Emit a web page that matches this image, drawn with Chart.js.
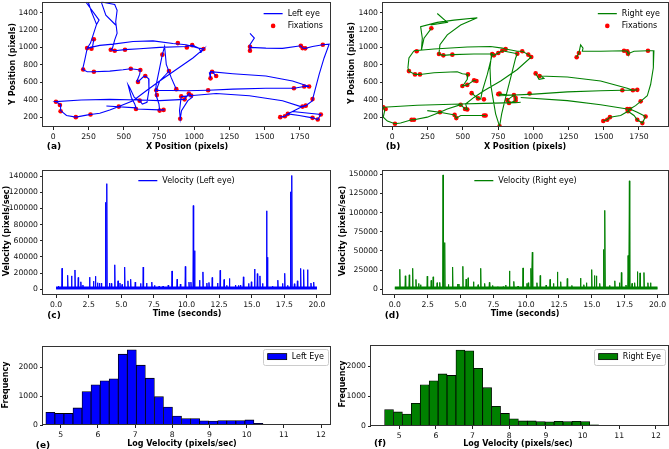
<!DOCTYPE html>
<html>
<head>
<meta charset="utf-8">
<script src="https://cdn.jsdelivr.net/npm/chart.js@4.4.1/dist/chart.umd.min.js"></script>
<style>
  body { margin: 0; width: 669px; height: 449px; background: #fff; position: relative; overflow: hidden; font-family: "DejaVu Sans", sans-serif; }
  canvas { position: absolute; }
  .lbl { position: absolute; transform: translate(-50%, -50%); white-space: nowrap; font-weight: bold; font-size: 8px; color: #000; }
  .rot { transform: translate(-50%, -50%) rotate(-90deg); }
  .tag { font-size: 9px; }
</style>
</head>
<body>
<canvas id="chartA"></canvas>
<canvas id="chartB"></canvas>
<canvas id="chartC"></canvas>
<canvas id="chartD"></canvas>
<canvas id="chartE"></canvas>
<canvas id="chartF"></canvas>

<div class="lbl rot" style="left:12px;top:64px">Y Position (pixels)</div>
<div class="lbl" style="left:187px;top:146px">X Position (pixels)</div>
<div class="lbl tag" style="left:54px;top:146px">(a)</div>
<div class="lbl rot" style="left:351px;top:63px">Y Position (pixels)</div>
<div class="lbl" style="left:525px;top:146px">X Position (pixels)</div>
<div class="lbl tag" style="left:393px;top:146px">(b)</div>

<div class="lbl rot" style="left:6px;top:231px">Velocity (pixels/sec)</div>
<div class="lbl" style="left:187px;top:313px">Time (seconds)</div>
<div class="lbl tag" style="left:54px;top:315px">(c)</div>
<div class="lbl rot" style="left:342px;top:231px">Velocity (pixels/sec)</div>
<div class="lbl" style="left:525px;top:313px">Time (seconds)</div>
<div class="lbl tag" style="left:392px;top:315px">(d)</div>

<div class="lbl rot" style="left:5px;top:385px">Frequency</div>
<div class="lbl" style="left:182px;top:443px">Log Velocity (pixels/sec)</div>
<div class="lbl tag" style="left:43px;top:445px">(e)</div>
<div class="lbl rot" style="left:342px;top:384px">Frequency</div>
<div class="lbl" style="left:518px;top:443px">Log Velocity (pixels/sec)</div>
<div class="lbl tag" style="left:380px;top:443px">(f)</div>

<script>
/**************************************
 *          TICKS DOS EIXOS
 **************************************/
const posXTicks = [0, 250, 500, 750, 1000, 1250, 1500, 1750];
const posYTicks = [200, 400, 600, 800, 1000, 1200, 1400];
const timeTicks = [0, 2.5, 5, 7.5, 10, 12.5, 15, 17.5, 20];
const velLeftTicks = [0, 20000, 40000, 60000, 80000, 100000, 120000, 140000];
const velRightTicks = [0, 25000, 50000, 75000, 100000, 125000, 150000];
const logVelTicks = [5, 6, 7, 8, 9, 10, 11, 12];
const freqTicks = [0, 1000, 2000];

/**************************************
 *     TRAJETORIAS (null = quebra)
 **************************************/
const leftEyePath = [
  [231,1521],[325,1313],[307,1264],[283,1143],[264,1049],[241,992],[224,860],[208,747],[241,721],[288,721],
  [401,728],[495,743],[550,755],[618,740],[613,690],[594,615],[601,604],[637,660],[653,672],[677,641],
  [679,509],[665,370],[632,351],[613,389],[575,426],[542,540],[531,570],[554,426],[578,351],[590,294],
  [755,283],[790,283], null,
  [248,1521],[271,1408],[295,1313],[307,1264], null,
  [342,1521],[436,1491],[453,1426],[443,1294],[453,1162],[436,1087],[420,992],[408,974],[436,962],[509,974],
  [613,985],[755,1000],[943,1011],[986,1026],[1033,992],[1050,947],[1066,981],[991,879],[873,747],[755,615],
  [660,502],[566,389],[465,321],[401,283],[330,245],[264,230],[236,223],[160,200],[94,219],[52,275],
  [52,343],[28,370],[14,377],[198,396],[401,404],[613,396],[755,389],[932,404],[962,472],[979,449],
  [986,426],[955,389],[910,275],[901,181],[896,275],[908,438],[1156,472],[1392,445],[1627,389],[1757,321],
  [1792,332],[1840,389],[1844,426],[1887,690],[1922,879],[1958,1038],[1913,1030],[1840,1011],[1788,989],[1769,992],
  [1757,1019],[1627,989],[1509,992],[1396,1000],[1396,962],[1396,1030],[1427,1106],[1396,1162], null,
  [342,1513],[373,1370],[443,1257], null,
  [288,1094],[278,1000],[241,992],[330,1023],[425,1038],[566,1068],[708,1075],[849,1045],[943,1030],[1033,992],
  [1066,981], null,
  [755,275],[750,351],[731,445],[726,509],[731,577],[755,766],[774,917],[790,1011],[802,804],[837,653],[873,521], null,
  [821,728],[790,672],[755,615],[731,509],[943,502],[1099,509],[1274,521],[1509,532],[1708,532],[1781,551],[1816,551], null,
  [1156,672],[1127,721],[1108,709],[1116,645],[1116,721],[1274,698],[1509,672],[1698,615],[1816,551], null,
  [1611,200],[1644,211],[1665,238],[1698,264],[1757,313],[1792,332], null,
  [1665,238],[1745,219],[1840,192],[1877,173],[1899,230],[1816,245],[1698,264], null,
  [377,328],[590,306]
];

const leftFixations = [
  [240,992],[271,985],[288,1094],[212,747],[288,721],[408,973],[436,962],[509,973],[550,755],[618,740],
  [601,604],[653,672],[613,389],[587,294],[465,321],[821,728],[774,917],[884,1049],[948,1000],[986,1026],
  [1066,981],[873,521],[731,509],[735,453],[755,275],[783,283],[901,181],[908,438],[932,404],[962,472],
  [979,449],[1099,509],[1116,645],[1127,721],[1156,672],[1396,962],[1396,1007],[1708,532],[1781,551],[1816,551],
  [1840,407],[1769,321],[1792,332],[1899,230],[1840,192],[1877,173],[1611,200],[1644,211],[1665,238],[1757,1019],
  [1769,992],[1788,989],[1913,1030],[19,377],[47,339],[52,268],[160,200],[264,230]
];

const rightEyePath = [
  [603,1340],[438,1313],[319,1287],[201,1238],[213,1106],[206,962], null,
  [319,1389],[390,1287],[272,1257], null,
  [603,1340],[485,1257],[390,1143],[338,1030],[331,924],[362,909],[426,917],[579,924],[709,924],[721,909],
  [752,936],[780,962],[887,928], null,
  [277,1219],[225,1106],[206,962], null,
  [154,962],[296,981],[532,1004],[698,1011],[780,992],[804,981],[887,955],[922,955],[965,917],[986,890],
  [887,747],[769,615],[650,502],[579,426],[520,351],[532,287],[516,294],[485,343],[390,294],[338,257],
  [248,200],[154,170],[137,170],[59,132],[19,124],[-35,155],[-64,200],[-54,275],[-64,313],[177,336],
  [485,351],[650,358],[875,366],[911,370], null,
  [154,962],[118,879],[111,766],[118,728],[161,690],[196,690],[296,709],[414,717],[461,721],[497,698],
  [537,690],[532,634],[508,577],[497,558],[532,570],[579,622],[596,615], null,
  [248,275],[338,257],[442,226],[454,189],[485,219],[650,219],[662,219], null,
  [705,936],[693,766],[698,577],[717,389],[733,238],[761,95],[776,238],[804,426],[840,653],[875,879],[887,928], null,
  [709,917],[674,690],[639,502],[627,407],[608,415],[563,475], null,
  [752,464],[863,453],[875,419],[875,389],[828,362],[816,396],[863,453], null,
  [757,445],[1005,464],[1242,490],[1478,502],[1632,509],[1707,509],[1738,513], null,
  [911,426],[1242,389],[1478,343],[1667,294],[1686,294], null,
  [1017,702],[1041,634],[1076,645],[1057,672],[1045,672],[1242,660],[1478,615],[1667,532],[1707,509], null,
  [1308,887],[1324,936],[1336,1030],[1353,992],[1348,955],[1478,955],[1644,962],[1667,955],[1672,928],[1715,955],
  [1814,962],[1856,962],[1852,766],[1833,577],[1809,445],[1762,381],[1726,332],[1686,294],[1672,268],[1620,219],
  [1544,200],[1525,170],[1497,155], null,
  [1686,294],[1738,257],[1797,208],[1774,132],[1738,170],[1715,219],[1672,268]
];

const rightFixations = [
  [277,1219],[173,955],[331,924],[362,909],[426,917],[709,924],[721,909],[752,936],[780,962],[804,981],
  [887,928],[922,955],[965,917],[986,890],[118,728],[161,690],[196,690],[537,690],[580,622],[597,615],
  [497,558],[532,570],[563,475],[608,415],[650,404],[752,464],[761,471],[863,453],[875,419],[875,389],
  [816,396],[828,362],[974,471],[1017,702],[1045,672],[485,343],[516,294],[532,287],[-64,313],[-47,294],
  [19,124],[137,170],[154,170],[338,256],[442,226],[454,189],[650,219],[662,219],[761,95],[1308,887],
  [1324,936],[1644,962],[1667,955],[1672,928],[1814,962],[1632,509],[1707,509],[1738,513],[1762,381],[1667,294],
  [1686,294],[1672,268],[1797,208],[1738,170],[1774,132],[1497,155],[1525,170],[1544,200]
];

/**************************************
 *        PICOS DE VELOCIDADE
 **************************************/
const velTimesLeft = [0.18,0.46,0.89,1.19,1.45,1.70,1.90,2.06,2.57,2.87,3.02,3.18,3.33,3.48,3.79,3.89,4.09,4.24,4.50,4.75,
  4.90,5.06,5.26,5.51,5.72,6.07,6.48,6.68,6.94,7.34,7.55,7.90,8.20,8.60,8.89,9.28,9.53,9.91,10.19,10.34,
  10.52,10.62,11.00,11.26,11.56,11.72,11.97,12.38,12.58,12.88,13.09,13.29,13.75,14.00,14.15,14.36,14.76,14.97,15.22,15.43,
  15.63,15.83,16.14,16.21,16.59,17.00,17.36,17.53,17.76,17.97,18.07,18.27,18.50,18.75,18.98,19.28,19.54,19.75];
const velLeft = [4000,26000,17400,16600,23900,14600,9300,5300,15000,10100,16200,8100,7700,7700,107600,130700,7700,7300,30300,10500,
  7700,6000,27500,10500,12500,8900,7300,27500,7700,8900,4900,4000,4000,5300,22700,12500,6500,28300,8900,8900,
  103600,47800,11300,21500,7700,8500,14600,7700,23500,12100,4900,13400,5300,4900,5300,15400,7300,9300,25100,19400,
  16600,7300,97100,39700,4000,11300,7300,19800,4900,120600,140800,6900,10500,25900,24300,24300,7700,8900];
const velBaseLeft = 1500;

const velTimesRight = [0.38,0.80,1.10,1.36,1.61,1.81,1.96,2.47,2.77,2.92,3.22,3.42,3.67,3.80,4.08,4.40,4.78,4.88,5.18,5.43,
  5.58,5.99,6.34,6.54,6.84,7.20,7.45,7.85,8.25,8.45,8.73,9.06,9.38,9.76,10.06,10.16,10.36,10.47,10.82,11.07,
  11.52,11.82,12.08,12.38,12.63,13.13,13.48,14.14,14.39,14.59,14.99,15.20,15.35,15.60,15.90,16.00,16.35,16.75,17.10,17.25,
  17.60,17.76,17.86,18.06,18.26,18.47,18.67,18.97,19.27,19.47];
const velRight = [26100,17600,18900,27400,12900,7700,6000,17100,11600,16300,8600,9000,149100,60900,6400,29100,6900,6900,30000,13300,
  15000,9900,6000,27400,7700,9000,5100,3400,3400,5600,24000,10300,4300,27900,7700,8600,27400,48400,8600,18000,
  5600,12900,7700,22700,9900,14100,5100,14600,6000,8600,25700,18000,17600,7700,51900,102900,5100,11100,8600,21900,
  5600,44100,141400,7700,8600,23100,21400,21900,8600,8600];
const velBaseRight = 1600;

/**************************************
 *           HISTOGRAMAS
 **************************************/
const logVelBins = [4.722,4.965,5.208,5.452,5.695,5.938,6.182,6.425,6.668,6.912,7.155,7.398,7.642,7.885,8.128,
  8.372,8.615,8.858,9.102,9.345,9.588,9.832,10.075,10.318,10.562,10.805,11.048,11.292,11.535,11.778];
const histLeft = [440,400,400,590,1160,1390,1530,1600,2450,2600,2070,1620,980,620,310,
  220,220,145,135,155,155,155,175,55,22,10,8,5,5,5];
const histRight = [550,470,400,760,1380,1510,1740,1690,2540,2510,1930,1280,660,420,240,
  170,170,150,140,160,150,160,150,40,20,10,8,5,15,5];

/**************************************
 *        CONFIGURACAO GERAL
 **************************************/
const PAD_L = 46, PAD_T = 5, PAD_R = 8, PAD_B = 18;
const TICK_FONT = { family: '"DejaVu Sans"', size: 7.7 };
const BLUE = "#0000ff", GREEN = "#008000", RED = "#ff0000";

function toPoints(pairs) {
  return pairs.map(p => (p ? { x: p[0], y: p[1] } : { x: null, y: null }));
}

function spikePoints(times, values, base) {
  const pts = [{ x: 0, y: base }];
  times.forEach((t, i) => {
    pts.push({ x: t - 0.03, y: base }, { x: t, y: values[i] }, { x: t + 0.03, y: base });
  });
  pts.push({ x: 20, y: base });
  return pts;
}

function linearAxis(min, max, ticks, fmt) {
  return {
    type: "linear",
    min: min,
    max: max,
    offset: false,
    afterBuildTicks: s => { s.ticks = ticks.map(v => ({ value: v })); },
    ticks: { font: TICK_FONT, color: "#111", padding: 2, maxRotation: 0, autoSkip: false, callback: fmt },
    grid: { display: true, offset: false, drawOnChartArea: false, drawTicks: true, tickLength: 3, color: "#222" },
    border: { display: false },
  };
}

const plain = v => String(v);
const oneDec = v => v.toFixed(1);

/**************************************
 *     MOLDURA E LEGENDA INTERNA
 **************************************/
const frameBox = {
  id: "frameBox",
  afterDraw(chart) {
    const a = chart.chartArea, ctx = chart.ctx;
    ctx.save();
    ctx.strokeStyle = "#333";
    ctx.lineWidth = 1;
    ctx.strokeRect(Math.round(a.left) - 0.5, Math.round(a.top) + 0.5,
      Math.round(a.right - a.left) + 1, Math.round(a.bottom - a.top) - 1);
    ctx.restore();
  }
};

const insideLegend = {
  id: "insideLegend",
  afterDraw(chart, args, opts) {
    if (!opts || !opts.items) return;
    const ctx = chart.ctx, a = chart.chartArea;
    ctx.save();
    ctx.font = '8px "DejaVu Sans"';
    ctx.textBaseline = "middle";
    const widest = Math.max(...opts.items.map(it => ctx.measureText(it.label).width));
    const w = 19 + 5 + widest;
    const x0 = opts.align === "center" ? (a.left + a.right) / 2 - w / 2 : a.right - opts.right - w;
    const y0 = a.top + opts.top;
    if (opts.box) {
      ctx.fillStyle = "#fff";
      ctx.strokeStyle = "#ccc";
      ctx.lineWidth = 1;
      ctx.beginPath();
      ctx.roundRect(Math.round(x0 - 5) + 0.5, Math.round(y0 - 8) + 0.5, Math.round(w + 9), 16, 2);
      ctx.fill();
      ctx.stroke();
    }
    opts.items.forEach((it, i) => {
      const y = y0 + i * 12.3;
      if (it.kind === "line") {
        ctx.strokeStyle = it.color;
        ctx.lineWidth = 1.3;
        ctx.beginPath();
        ctx.moveTo(x0, y);
        ctx.lineTo(x0 + 19, y);
        ctx.stroke();
      } else if (it.kind === "dot") {
        ctx.fillStyle = it.color;
        ctx.beginPath();
        ctx.arc(x0 + 9.5, y, 2.3, 0, Math.PI * 2);
        ctx.fill();
      } else {
        ctx.fillStyle = it.color;
        ctx.fillRect(x0, y - 3, 19, 6);
        ctx.strokeStyle = "#000";
        ctx.lineWidth = 0.8;
        ctx.strokeRect(x0, y - 3, 19, 6);
      }
      ctx.fillStyle = "#000";
      ctx.fillText(it.label, x0 + 24, y + 0.5);
    });
    ctx.restore();
  }
};

/**************************************
 *          CRIA UM PAINEL
 **************************************/
function makePanel(id, frame, type, datasets, xAxis, yAxis, legend) {
  const [L, T, R, B] = frame;
  const cv = document.getElementById(id);
  const w = R - L + PAD_L + PAD_R;
  const h = B - T + PAD_T + PAD_B;
  cv.width = w;
  cv.height = h;
  cv.style.left = (L - PAD_L) + "px";
  cv.style.top = (T - PAD_T) + "px";
  cv.style.width = w + "px";
  cv.style.height = h + "px";
  xAxis.afterFit = s => { s.height = PAD_B; };
  yAxis.afterFit = s => { s.width = PAD_L; };
  return new Chart(cv, {
    type: type,
    data: { datasets: datasets },
    options: {
      responsive: false,
      animation: false,
      devicePixelRatio: 1,
      events: [],
      layout: { padding: { top: PAD_T, right: PAD_R, left: 0, bottom: 0 } },
      scales: { x: xAxis, y: yAxis },
      plugins: { legend: { display: false }, tooltip: { enabled: false }, insideLegend: legend },
    },
    plugins: [frameBox, insideLegend],
  });
}

function eyeDatasets(path, fixations, color) {
  return [
    { data: toPoints(path), showLine: true, borderColor: color, borderWidth: 1.1, pointRadius: 0, spanGaps: false },
    { data: toPoints(fixations), showLine: false, pointRadius: 2.3, pointBackgroundColor: RED, pointBorderWidth: 0 },
  ];
}

function velDatasets(times, values, base, color) {
  return [
    { data: spikePoints(times, values, base), showLine: true, borderColor: color, borderWidth: 1, pointRadius: 0 },
    { data: [{ x: 0, y: base }, { x: 20, y: base }], showLine: true, borderColor: color, borderWidth: 3, pointRadius: 0 },
  ];
}

function histDatasets(values, color) {
  return [{
    data: logVelBins.map((c, i) => ({ x: c, y: values[i] })),
    backgroundColor: color,
    borderColor: "#000",
    borderWidth: 0.8,
    barPercentage: 1,
    categoryPercentage: 1,
  }];
}

/**************************************
 *         AO CARREGAR A PAGINA
 **************************************/
window.onload = () => {
  makePanel("chartA", [43, 0, 330, 127], "scatter",
    eyeDatasets(leftEyePath, leftFixations, BLUE),
    linearAxis(-73, 1964, posXTicks, plain), linearAxis(87, 1525, posYTicks, plain),
    { right: 7, top: 12, items: [
      { kind: "line", color: BLUE, label: "Left eye" },
      { kind: "dot", color: RED, label: "Fixations" }] });

  makePanel("chartB", [383, 0, 668, 127], "scatter",
    eyeDatasets(rightEyePath, rightFixations, GREEN),
    linearAxis(-66, 1956, posXTicks, plain), linearAxis(87, 1525, posYTicks, plain),
    { right: 8, top: 12, items: [
      { kind: "line", color: GREEN, label: "Right eye" },
      { kind: "dot", color: RED, label: "Fixations" }] });

  makePanel("chartC", [43, 168, 330, 295], "scatter",
    velDatasets(velTimesLeft, velLeft, velBaseLeft, BLUE),
    linearAxis(-1, 21, timeTicks, oneDec), linearAxis(-7050, 148050, velLeftTicks, plain),
    { align: "center", top: 11, items: [{ kind: "line", color: BLUE, label: "Velocity (Left eye)" }] });

  makePanel("chartD", [383, 168, 668, 295], "scatter",
    velDatasets(velTimesRight, velRight, velBaseRight, GREEN),
    linearAxis(-0.9, 20.8, timeTicks, oneDec), linearAxis(-7400, 156000, velRightTicks, plain),
    { align: "center", top: 11, items: [{ kind: "line", color: GREEN, label: "Velocity (Right eye)" }] });

  makePanel("chartE", [43, 344, 330, 425], "bar",
    histDatasets(histLeft, BLUE),
    linearAxis(4.524, 12.242, logVelTicks, plain), linearAxis(0, 2746, freqTicks, plain),
    { right: 6, top: 11, box: true, items: [{ kind: "patch", color: BLUE, label: "Left Eye" }] });

  makePanel("chartF", [371, 343, 668, 426], "bar",
    histDatasets(histRight, GREEN),
    linearAxis(4.23, 12.33, logVelTicks, plain), linearAxis(0, 2720, freqTicks, plain),
    { right: 7, top: 12, box: true, items: [{ kind: "patch", color: GREEN, label: "Right Eye" }] });
};
</script>
</body>
</html>
